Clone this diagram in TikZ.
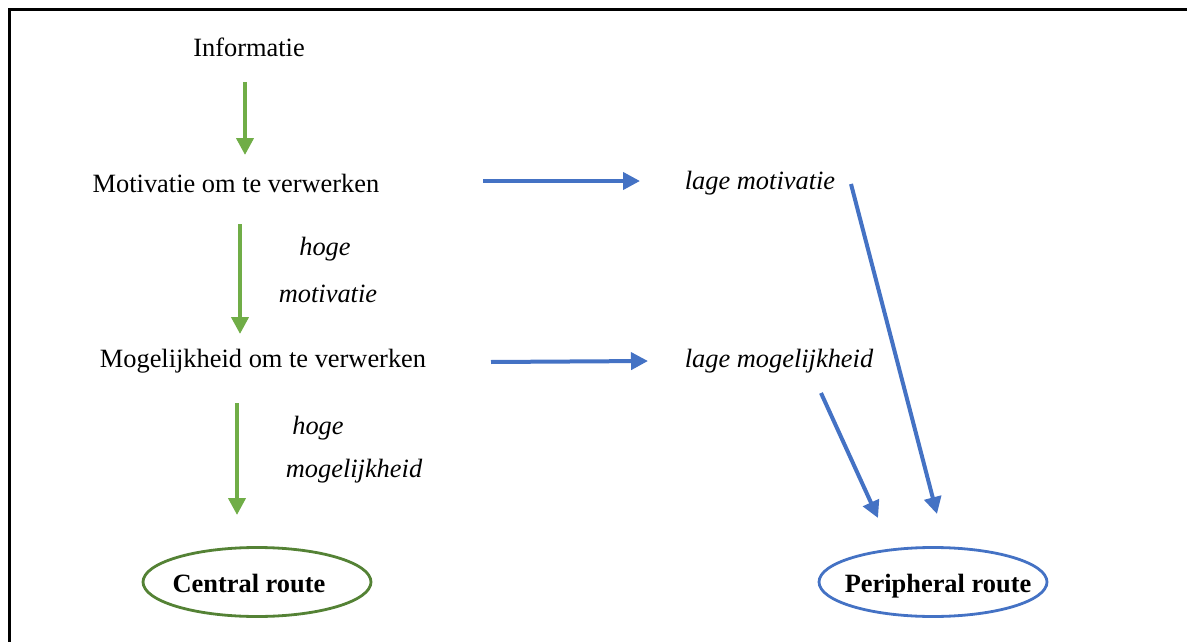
\documentclass[tikz,border=0pt]{standalone}
\usepackage{fontspec}
\setmainfont{Liberation Serif}
\usetikzlibrary{arrows.meta,shapes.geometric}
\definecolor{garrow}{HTML}{70AD47}
\definecolor{gedge}{HTML}{548235}
\definecolor{barrow}{HTML}{4472C4}
\tikzset{
  txt/.style={inner sep=0pt, font=\fontsize{26.4}{30}\selectfont},
  itxt/.style={inner sep=0pt, font=\fontsize{26.4}{30}\selectfont\itshape},
  garr/.style={draw=garrow, line width=4pt, -{Triangle[length=17pt,width=17pt]}},
  barr/.style={draw=barrow, line width=4pt, -{Triangle[length=17pt,width=17pt]}},
  route/.style={ellipse, line width=2.8pt, minimum width=228pt, minimum height=69pt, inner sep=0pt, font=\fontsize{26.4}{30}\selectfont\bfseries}
}
\begin{document}
\begin{tikzpicture}[x=1pt,y=-1pt]
\useasboundingbox (0,0) rectangle (1187,642);
\draw[line width=3pt] (9,660) -- (9,10) -- (1200,10);
% nodes
\node[txt] (info) at (249,47) {Informatie};
\node[txt] (motiv) at (236,183) {Motivatie om te verwerken};
\node[txt] (mogel) at (263,361) {Mogelijkheid om te verwerken};
\node[itxt] (hm1) at (325,249) {hoge};
\node[itxt] (hm2) at (328,294) {motivatie};
\node[itxt] (hg1) at (318,428) {hoge};
\node[itxt] (hg2) at (354,471) {mogelijkheid};
\node[itxt] (lmot) at (760,183) {lage motivatie};
\node[itxt] (lmog) at (779,361) {lage mogelijkheid};
\node[route, draw=gedge] (central) at (257,582) {\hspace*{-16pt}\makebox[0pt]{\raisebox{-10pt}[0pt][0pt]{Central route}}};
\node[route, draw=barrow] (periph) at (933,582) {\hspace*{10pt}\makebox[0pt]{\raisebox{-10pt}[0pt][0pt]{Peripheral route}}};
% connector ends
\coordinate (g1s) at (245,82);  \coordinate (g1e) at (245,155);
\coordinate (g2s) at (240,224); \coordinate (g2e) at (240,334);
\coordinate (g3s) at (237,403); \coordinate (g3e) at (237,515);
\coordinate (b1s) at (483,181); \coordinate (b1e) at (640,181);
\coordinate (b2s) at (491,362); \coordinate (b2e) at (648,361);
\coordinate (b3s) at (851,184); \coordinate (b3e) at (937,514);
\coordinate (b4s) at (821,393); \coordinate (b4e) at (878,518);
\draw[garr] (g1s) -- (g1e);
\draw[garr] (g2s) -- (g2e);
\draw[garr] (g3s) -- (g3e);
\draw[barr] (b1s) -- (b1e);
\draw[barr] (b2s) -- (b2e);
\draw[barr] (b3s) -- (b3e);
\draw[barr] (b4s) -- (b4e);
\end{tikzpicture}
\end{document}
